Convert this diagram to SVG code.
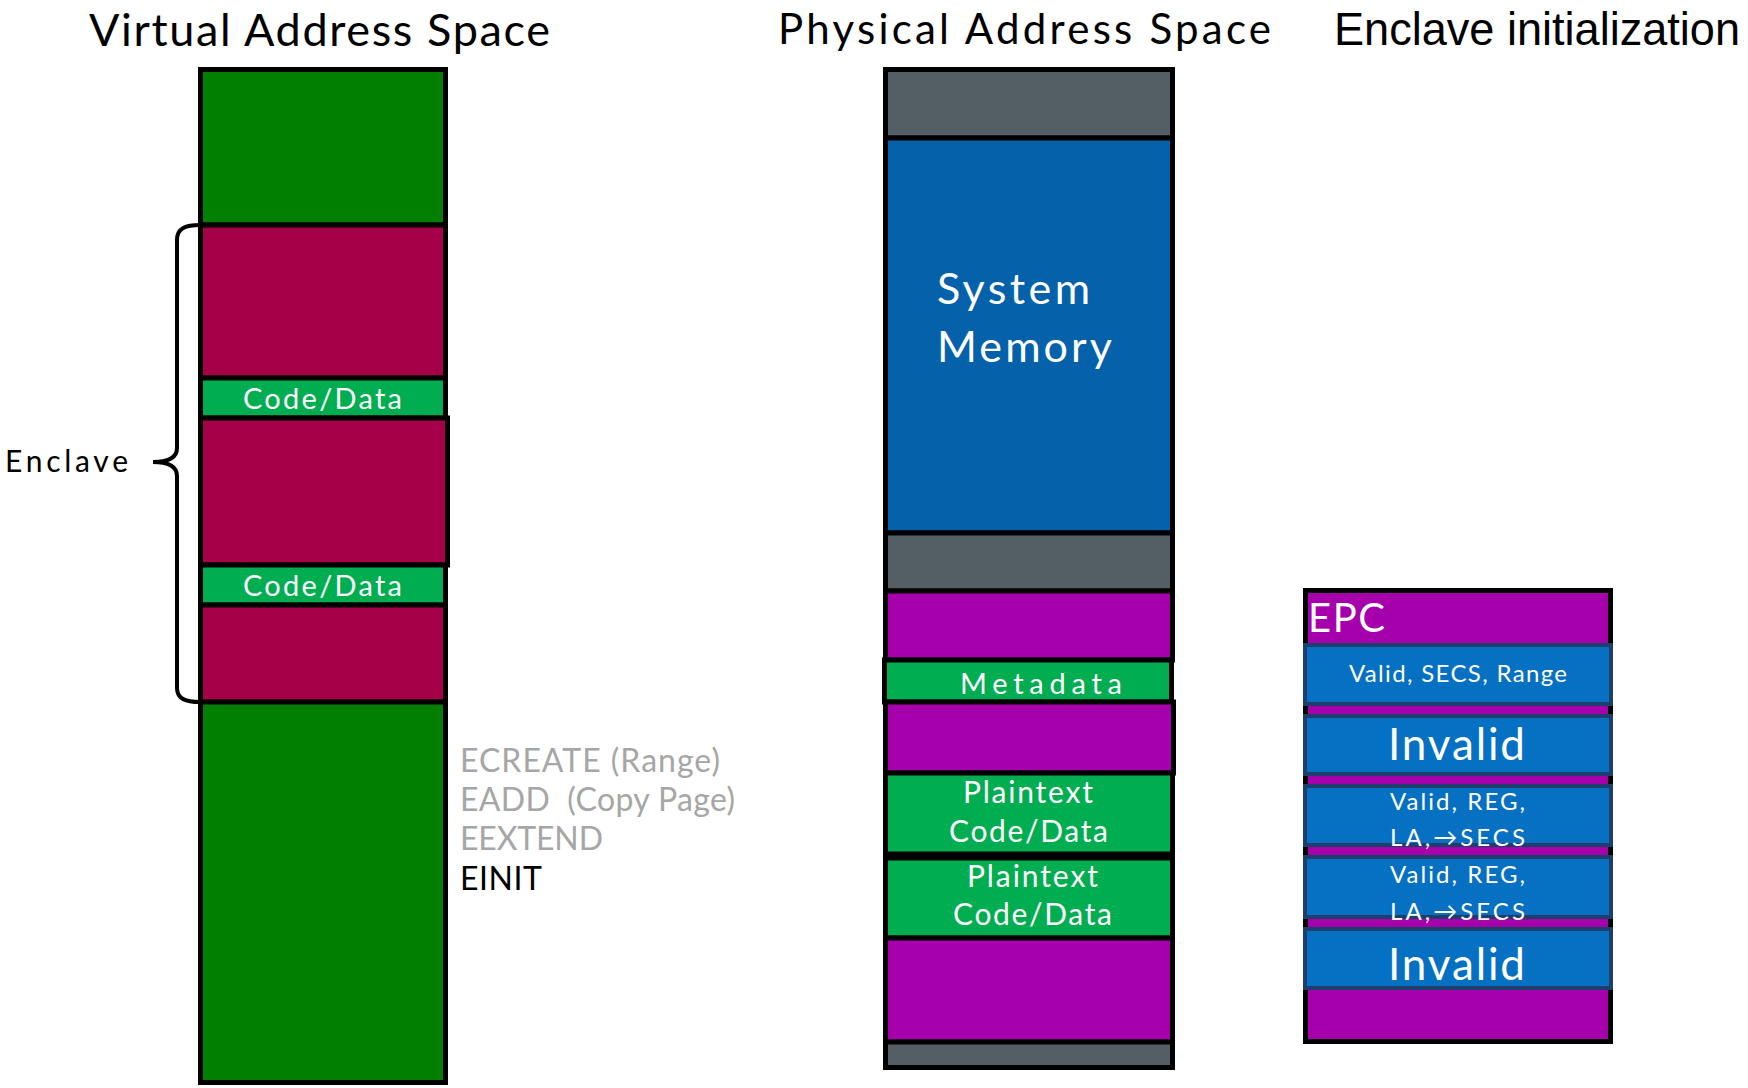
<svg xmlns="http://www.w3.org/2000/svg" width="1748" height="1088" viewBox="0 0 1748 1088">
<style>
.t{font-family:Lato,"Open Sans","Liberation Sans",sans-serif;}
.w{fill:#ffffff;}
.seg{stroke:#000000;stroke-width:5;}
.dg{fill:#007F00;}
.rd{fill:#A50048;}
.lg{fill:#00AD50;}
.gy{fill:#535E65;}
.bl{fill:#0561AA;}
.pu{fill:#A500AB;}
.eb{fill:#0670C3;stroke:#1E3F6E;stroke-width:4;}
.cmd{fill:#A6A6A6;font-size:32px;}
</style>
<rect width="1748" height="1088" fill="#ffffff"/>
<g id="titles">
<text class="t" x="89" y="46" font-size="45" textLength="461" fill="#000">Virtual Address Space</text>
<text class="t" x="778" y="44" font-size="42" textLength="493" fill="#000">Physical Address Space</text>
<text x="1334" y="45" font-family="'Liberation Sans',Arial,sans-serif" font-size="46" textLength="406" lengthAdjust="spacingAndGlyphs" fill="#000">Enclave initialization</text>
</g>
<g id="virtual-space">
<rect class="seg dg" x="200.5" y="69.5" width="245" height="155.5"/>
<rect class="seg rd" x="200.5" y="225" width="245" height="153"/>
<rect class="seg lg" x="200.5" y="378" width="245" height="40"/>
<rect class="seg rd" x="200.5" y="418" width="247" height="147"/>
<rect class="seg lg" x="200.5" y="565" width="245" height="40"/>
<rect class="seg rd" x="200.5" y="605" width="245" height="97"/>
<rect class="seg dg" x="200.5" y="702" width="245" height="380.5"/>
<text class="t w" x="243" y="409" font-size="29" textLength="159">Code/Data</text>
<text class="t w" x="243" y="596" font-size="29" textLength="159">Code/Data</text>
</g>
<g id="enclave-label">
<path d="M200,225 C186,225 177,228 177,240 L177,448 C177,458 168,462 153,462 C168,462 177,466 177,476 L177,688 C177,699 186,702 200,702" fill="none" stroke="#000" stroke-width="4"/>
<text class="t" x="5" y="472" font-size="30" textLength="123" fill="#000">Enclave</text>
</g>
<g id="commands">
<text class="t cmd" x="460" y="772" textLength="260">ECREATE (Range)</text>
<text class="t cmd" x="460" y="811" textLength="275" xml:space="preserve">EADD  (Copy Page)</text>
<text class="t cmd" x="460" y="850" textLength="143">EEXTEND</text>
<text class="t" x="460" y="890" font-size="32" textLength="82" fill="#000">EINIT</text>
</g>
<g id="physical-space">
<rect class="seg gy" x="885.5" y="69.5" width="287" height="68.5"/>
<rect class="seg bl" x="885.5" y="138" width="287" height="395"/>
<rect class="seg gy" x="885.5" y="533" width="287" height="58"/>
<rect class="seg pu" x="885.5" y="591" width="287" height="69"/>
<rect class="seg lg" x="884.5" y="660" width="287" height="42"/>
<rect class="seg pu" x="885.5" y="702" width="288" height="71"/>
<rect class="seg lg" x="885.5" y="773" width="287" height="81"/>
<rect class="seg lg" x="885.5" y="858" width="287" height="80"/>
<rect class="seg pu" x="885.5" y="938" width="287" height="104"/>
<rect class="seg gy" x="885.5" y="1042" width="287" height="25.5"/>
<text class="t w" x="937" y="304" font-size="43" textLength="153">System</text>
<text class="t w" x="937" y="362" font-size="43" textLength="175">Memory</text>
<text class="t w" x="960" y="694" font-size="29" textLength="162">Metadata</text>
<text class="t w" x="963" y="803" font-size="30" textLength="130">Plaintext</text>
<text class="t w" x="949" y="842" font-size="30" textLength="159">Code/Data</text>
<text class="t w" x="967" y="887" font-size="30" textLength="131">Plaintext</text>
<text class="t w" x="953" y="925" font-size="30" textLength="159">Code/Data</text>
</g>
<g id="epc">
<rect class="seg pu" x="1305.5" y="590.5" width="305" height="451"/>
<text class="t w" x="1308" y="632" font-size="40" textLength="77">EPC</text>
<rect class="eb" x="1305" y="645" width="306" height="59"/>
<text class="t w" x="1349" y="682" font-size="24" textLength="218">Valid, SECS, Range</text>
<rect class="eb" x="1305" y="716" width="306" height="58"/>
<text class="t w" x="1388" y="760" font-size="44" textLength="137">Invalid</text>
<rect class="eb" x="1305" y="786" width="306" height="59"/>
<text class="t w" x="1390" y="810" font-size="24" textLength="135">Valid, REG,</text>
<text class="t w" x="1390" y="846" font-size="24" textLength="135">LA,→SECS</text>
<rect class="eb" x="1305" y="857" width="306" height="60"/>
<text class="t w" x="1390" y="883" font-size="24" textLength="135">Valid, REG,</text>
<text class="t w" x="1390" y="920" font-size="24" textLength="135">LA,→SECS</text>
<rect class="eb" x="1305" y="929" width="306" height="59"/>
<text class="t w" x="1388" y="980" font-size="44" textLength="137">Invalid</text>
</g>
</svg>
